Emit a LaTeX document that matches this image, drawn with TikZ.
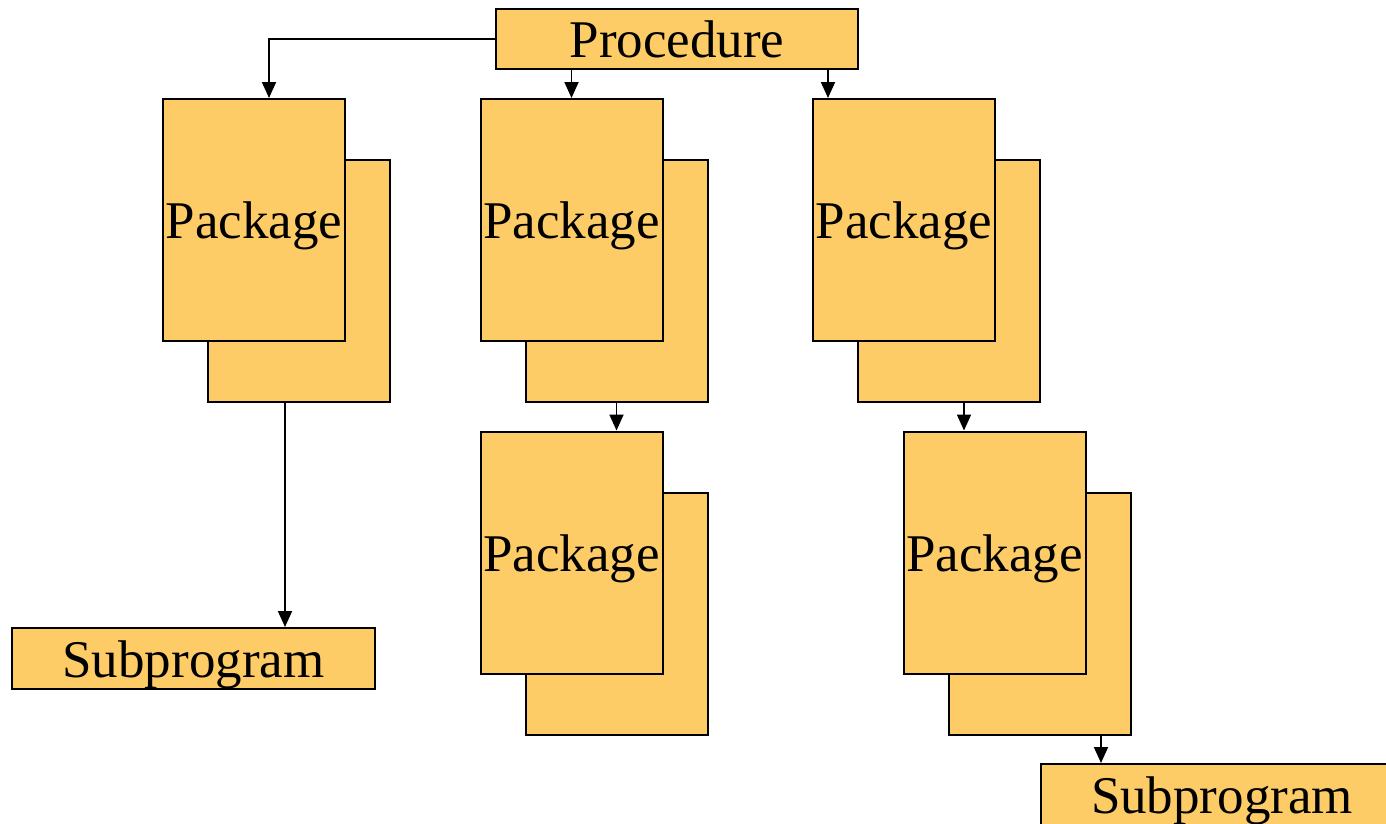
\documentclass[tikz,border=0pt]{standalone}
\usepackage{fontspec}
\setmainfont{Liberation Serif}
\usetikzlibrary{arrows.meta}
\definecolor{boxfill}{RGB}{254,204,102}
\begin{document}
\begin{tikzpicture}[x=1pt,y=-1pt,
  box/.style={draw=black,fill=boxfill,line width=2pt,inner sep=0pt,rectangle,
    text height=37pt,text depth=0pt,
    font=\fontsize{53}{60}\selectfont},
  pkg/.style={box,minimum width=182pt,minimum height=242pt},
  arr/.style={draw=black,line width=1.8pt,-{Triangle[length=16pt,width=14pt]}}
]
\useasboundingbox (0,0) rectangle (1386,823);
% Procedure
\node[box,minimum width=362pt,minimum height=60pt] (proc) at (677,39) {Procedure};
% Package 1
\node[pkg] (pk1b) at (299,281) {};
\node[pkg] (pk1f) at (254,220) {Package};
% Package 2
\node[pkg] (pk2b) at (616.5,281) {};
\node[pkg] (pk2f) at (571.5,220) {Package};
% Package 3
\node[pkg] (pk3b) at (949,281) {};
\node[pkg] (pk3f) at (904,220) {Package};
% Package 4
\node[pkg] (pk4b) at (616.5,613.5) {};
\node[pkg] (pk4f) at (571.5,552.5) {Package};
% Package 5
\node[pkg] (pk5b) at (1040,613.5) {};
\node[pkg] (pk5f) at (994.5,552.5) {Package};
% Subprograms
\node[box,minimum width=363pt,minimum height=61pt] (sub1) at (193.5,658.5) {Subprogram};
\node[box,minimum width=362pt,minimum height=61pt] (sub2) at (1222,794.5) {Subprogram};
% Connectors
\draw[arr] (proc.west) -| ([xshift=15pt]pk1f.north);
\draw[arr] (pk2f.north |- proc.south) -- (pk2f.north);
\draw[arr] ([xshift=-76pt]pk3f.north |- proc.south) -- ([xshift=-76pt]pk3f.north);
\draw[arr] ([xshift=-14pt]pk1b.south) -- ([xshift=-14pt]pk1b.south |- sub1.north);
\draw[arr] (pk2b.south) -- (pk2b.south |- pk4f.north);
\draw[arr] ([xshift=15pt]pk3b.south) -- ([xshift=15pt]pk3b.south |- pk5f.north);
\draw[arr] ([xshift=61pt]pk5b.south) -- ([xshift=61pt]pk5b.south |- sub2.north);
\end{tikzpicture}
\end{document}
